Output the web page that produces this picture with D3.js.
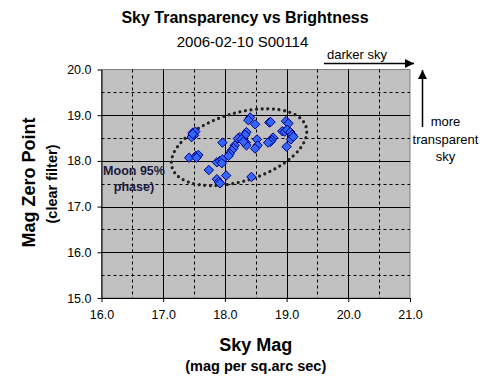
<!DOCTYPE html>
<html><head><meta charset="utf-8">
<script src="https://cdn.jsdelivr.net/npm/d3@7"></script>
<style>
html,body{margin:0;padding:0;background:#fff;}
svg{display:block;font-family:"Liberation Sans",Arial,sans-serif;}
</style></head>
<body>
<svg id="chart" width="489" height="391"></svg>
<script>
// ---- data ----
const skyMag = [17.48,17.52,17.50,17.46,17.48,17.42,17.53,17.57,17.54,17.96,17.74,17.87,17.92,17.96,17.95,18.02,17.87,17.90,17.92,18.43,
  18.41,18.38,18.49,18.72,18.74,18.99,19.03,18.93,18.97,19.01,19.06,19.09,19.07,19.00,18.78,18.76,18.74,
  18.35,18.33,18.24,18.21,18.27,18.34,18.35,18.16,18.14,18.11,18.08,18.06,18.52,18.53,18.49,18.70,19.11,18.30];
const magZero = [18.62,18.64,18.56,18.52,18.59,18.07,18.11,18.13,18.07,18.40,17.80,17.97,18.00,18.03,17.95,17.68,17.60,17.54,17.51,17.65,
  18.95,18.89,18.80,18.84,18.85,18.87,18.82,18.65,18.64,18.68,18.63,18.57,18.47,18.31,18.51,18.46,18.42,
  18.63,18.57,18.52,18.49,18.47,18.40,18.34,18.34,18.28,18.23,18.16,18.11,18.47,18.34,18.27,18.40,18.53,18.42];
const xTicks = [16,17,18,19,20,21];
const xHalf = [16.5,17.5,18.5,19.5,20.5];
const yTicks = [15,16,17,18,19,20];
const yHalf = [15.5,16.5,17.5,18.5,19.5];
const xDomain = [16,21];
const yDomain = [15,20];
const ellipseCenter = [18.23,18.30];

const svg = d3.select("#chart");
const L = 101.5, R = 410, T = 69.5, B = 298;
const x = d3.scaleLinear().domain(xDomain).range([L,R]);
const y = d3.scaleLinear().domain(yDomain).range([B,T]);

// plot background
svg.append("rect").attr("x",L).attr("y",T).attr("width",R-L).attr("height",B-T)
  .attr("fill","#c0c0c0").attr("stroke","#808080").attr("stroke-width",1);

// gridlines
const g = svg.append("g");
g.selectAll("line.vh").data(xHalf).join("line")
  .attr("x1",d=>Math.round(x(d))+0.5).attr("x2",d=>Math.round(x(d))+0.5).attr("y1",T).attr("y2",B)
  .attr("stroke","#000").attr("stroke-dasharray","3,3");
g.selectAll("line.hh").data(yHalf).join("line")
  .attr("y1",d=>Math.round(y(d))+0.5).attr("y2",d=>Math.round(y(d))+0.5).attr("x1",L).attr("x2",R)
  .attr("stroke","#000").attr("stroke-dasharray","3,3");
g.selectAll("line.vi").data(xTicks.slice(1,-1)).join("line")
  .attr("x1",d=>Math.round(x(d))+0.5).attr("x2",d=>Math.round(x(d))+0.5).attr("y1",T).attr("y2",B)
  .attr("stroke","#000");
g.selectAll("line.hi").data(yTicks.slice(1,-1)).join("line")
  .attr("y1",d=>Math.round(y(d))+0.5).attr("y2",d=>Math.round(y(d))+0.5).attr("x1",L).attr("x2",R)
  .attr("stroke","#000");

// axes
const xAxis = d3.axisBottom(x).tickValues(xTicks).tickFormat(d3.format(".1f")).tickSize(4).tickSizeOuter(0);
const yAxis = d3.axisLeft(y).tickValues(yTicks).tickFormat(d3.format(".1f")).tickSize(4).tickSizeOuter(0);
const gx = svg.append("g").attr("transform",`translate(0,${B})`).call(xAxis);
const gy = svg.append("g").attr("transform",`translate(${L},0)`).call(yAxis);
[gx,gy].forEach(a=>{
  a.select(".domain").attr("stroke","#000");
  a.selectAll(".tick line").attr("stroke","#000");
  a.selectAll(".tick text").attr("font-family","Liberation Sans, Arial, sans-serif").attr("font-size",12.5).attr("fill","#000");
});
gx.selectAll(".tick text").attr("dy","0.71em").attr("y",12);
gy.selectAll(".tick text").attr("x",-10);

// ellipse annotation
svg.append("ellipse")
  .attr("cx",0).attr("cy",0).attr("rx",70).attr("ry",34)
  .attr("transform",`translate(${x(ellipseCenter[0])},${y(ellipseCenter[1])}) rotate(-17)`)
  .attr("fill","none").attr("stroke","#222").attr("stroke-width",3.2)
  .attr("stroke-dasharray","0,5.6").attr("stroke-linecap","round");

// points
const pts = skyMag.map((v,i)=>({x:v,y:magZero[i]}));
svg.append("g").selectAll("path").data(pts).join("path")
  .attr("d","M0,-4.7L4.7,0L0,4.7L-4.7,0Z")
  .attr("stroke-linejoin","round")
  .attr("transform",d=>`translate(${x(d.x)},${y(d.y)})`)
  .attr("fill","#3366ff").attr("stroke","#000080").attr("stroke-width",1);

// titles
svg.append("text").attr("x",245).attr("y",23).attr("text-anchor","middle")
  .attr("font-size",16).attr("font-weight","bold").text("Sky Transparency vs Brightness");
svg.append("text").attr("x",242.5).attr("y",47).attr("text-anchor","middle")
  .attr("font-size",15).text("2006-02-10 S00114");

svg.append("text").attr("x",(L+R)/2).attr("y",351).attr("text-anchor","middle")
  .attr("font-size",18).attr("font-weight","bold").text("Sky Mag");
svg.append("text").attr("x",(L+R)/2).attr("y",371).attr("text-anchor","middle")
  .attr("font-size",14.5).attr("font-weight","bold").text("(mag per sq.arc sec)");

svg.append("text").attr("transform","translate(35,182.5) rotate(-90)").attr("text-anchor","middle")
  .attr("font-size",18).attr("font-weight","bold").text("Mag Zero Point");
svg.append("text").attr("transform","translate(56.5,184) rotate(-90)").attr("text-anchor","middle")
  .attr("font-size",14.5).attr("font-weight","bold").text("(clear filter)");

// moon annotation
svg.append("text").attr("x",134).attr("y",175).attr("text-anchor","middle")
  .attr("font-size",12.5).attr("font-weight","bold").attr("fill","#1a1a40").text("Moon 95%");
svg.append("text").attr("x",134).attr("y",191).attr("text-anchor","middle")
  .attr("font-size",12.5).attr("font-weight","bold").attr("fill","#1a1a40").text("phase)");

// arrows
const defs = svg.append("defs");
defs.append("marker").attr("id","ah").attr("viewBox","0 0 10 10").attr("refX",10).attr("refY",5)
  .attr("markerWidth",10).attr("markerHeight",9).attr("markerUnits","userSpaceOnUse").attr("orient","auto")
  .append("path").attr("d","M0,0L10,5L0,10Z").attr("fill","#000");
svg.append("line").attr("x1",324).attr("x2",414).attr("y1",63.5).attr("y2",63.5)
  .attr("stroke","#000").attr("stroke-width",1.5).attr("marker-end","url(#ah)");
svg.append("text").attr("x",327).attr("y",58.5).attr("font-size",13).text("darker sky");
svg.append("line").attr("x1",422.5).attr("x2",422.5).attr("y1",127).attr("y2",70)
  .attr("stroke","#000").attr("stroke-width",1.5).attr("marker-end","url(#ah)");
[["more",126],["transparent",143.5],["sky",160.5]].forEach(([t,yy])=>{
  svg.append("text").attr("x",445.5).attr("y",yy).attr("text-anchor","middle").attr("font-size",13).text(t);
});
</script>
</body></html>
